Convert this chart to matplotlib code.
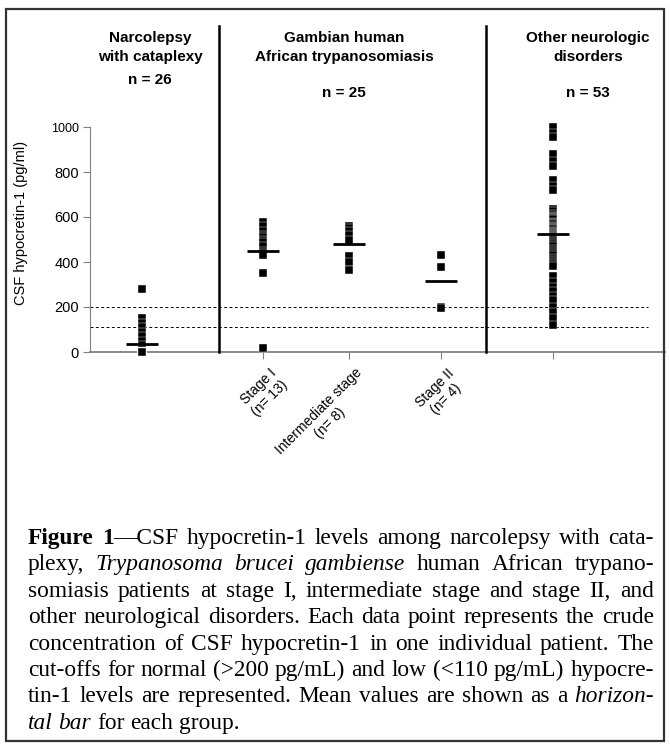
import numpy as np
import matplotlib.pyplot as plt
from matplotlib.patches import Rectangle

# Data (pg/ml)
narcolepsy = [280, 150, 130, 110, 90, 70, 50, 30, 20, 10, 10, 10,
              0, 0, 0, 0, 0, 0, 0, 0, 0, 0, 0, 0, 0, 0]
stage1 = [580, 560, 540, 520, 510, 500, 490, 470, 450, 440, 430, 352, 20]
intermediate = [560, 550, 540, 520, 500, 425, 400, 365]
stage2 = [430, 380, 200, 195]
other = [1000, 975, 955, 880, 850, 825, 765, 740, 720,
         634, 625, 615, 605, 600, 595, 590, 580, 575, 570, 560, 555, 550,
         545, 540, 535, 530, 525, 520, 515, 510, 500, 490, 480, 470, 460,
         450, 440, 430, 420, 410, 400, 390, 384,
         339, 310, 290, 270, 250, 230, 200, 180, 150, 121]
group_means = [37, 451, 478, 314, 524]
cutoffs = [200, 110]

cat_labels = ["", "Stage I\n(n= 13)", "Intermediate stage\n(n= 8)", "Stage II\n(n= 4)", ""]
yticks = [0, 200, 400, 600, 800, 1000]

headers = [("Narcolepsy", "with cataplexy", "n = 26"),
           ("Gambian human", "African trypanosomiasis", "n = 25"),
           ("Other neurologic", "disorders", "n = 53")]

caption = [
    [("Figure 1", "bold"), ("—CSF hypocretin-1 levels among narcolepsy with cata-", "normal")],
    [("plexy, ", "normal"), ("Trypanosoma brucei gambiense", "italic"), (" human African trypano-", "normal")],
    [("somiasis patients at stage I, intermediate stage and stage II, and", "normal")],
    [("other neurological disorders. Each data point represents the crude", "normal")],
    [("concentration of CSF hypocretin-1 in one individual patient. The", "normal")],
    [("cut-offs for normal (>200 pg/mL) and low (<110 pg/mL) hypocre-", "normal")],
    [("tin-1 levels are represented. Mean values are shown as a ", "normal"), ("horizon-", "italic")],
    [("tal bar", "italic"), (" for each group.", "normal")],
]

groups = [narcolepsy, stage1, intermediate, stage2, other]
positions = [0.59, 1.96, 2.93, 3.97, 5.23]

plt.rcParams['font.family'] = ['Liberation Sans', 'DejaVu Sans']

W, H = 670, 744
fig = plt.figure(figsize=(W / 100, H / 100), dpi=100)

# pixel -> figure fraction helpers
def fx(px):
    return px / W

def fy(py):
    return 1 - py / H

ax = fig.add_axes([fx(90), fy(352), (665 - 90) / W, (352 - 127) / H])
ax.set_xlim(0, 6.5)
ax.set_ylim(0, 1000)

gray = "#808080"
for s in ["top", "right"]:
    ax.spines[s].set_visible(False)
ax.spines["left"].set_color(gray)
ax.spines["bottom"].set_color(gray)
ax.spines["bottom"].set_linewidth(1.3)

# cut-off lines
ax.hlines(cutoffs, 0, 6.31, colors="black", linestyles=(0, (3, 2.5)), lw=0.7)

# group separators
for xs in [1.46, 4.48]:
    ax.plot([xs, xs], [0, 1450], color="black", lw=1.8, clip_on=False, zorder=3)

# data points
for x, vals in zip(positions, groups):
    ax.plot(np.full(len(vals), x), vals, ls="none", marker="s", ms=5.8,
            mfc="black", mec="white", mew=0.3, clip_on=False, zorder=4)

# mean bars
for x, m in zip(positions, group_means):
    ax.hlines(m, x - 0.18, x + 0.18, colors="black", lw=2, zorder=5)

ax.set_yticks(yticks)
ax.set_yticklabels([str(t) for t in yticks])
ax.tick_params(axis="y", colors=gray, labelcolor="black", labelsize=10.5, length=5, pad=3)
ax.get_yticklabels()[-1].set_fontsize(9)
ax.set_xticks(positions[1:])
ax.set_xticklabels([])
ax.tick_params(axis="x", colors=gray, length=5)

ax.set_ylabel("CSF hypocretin-1 (pg/ml)", fontsize=10.5)
ax.yaxis.set_label_coords(-0.108, 0.575)

for x, lab in zip(positions, cat_labels):
    if lab:
        ax.annotate(lab, xy=(x, 0), xytext=(4, -10), textcoords="offset points",
                    rotation=45, rotation_mode="anchor", ha="right", va="top",
                    multialignment="center", fontsize=10, annotation_clip=False)

# headers
head_x = [150, 344, 588]
head_y = [(38, 57, 80), (38, 57, 93), (38, 57, 93)]
for hx, hy, lines in zip(head_x, head_y, headers):
    for py, txt in zip(hy, lines):
        fig.text(fx(hx), fy(py), txt, ha="center", va="center",
                 fontsize=11, fontweight="bold")

# frame
fig.add_artist(Rectangle((fx(6), fy(741)), (664 - 6) / W, (741 - 9) / H,
                         transform=fig.transFigure, fill=False,
                         edgecolor="#333333", lw=1.6))

# caption, justified between two margins
renderer = fig.canvas.get_renderer()
left, right = 28, 654
line_h = 26.4
first_base = 544

def split_words(runs):
    words, cur = [], []
    for txt, st in runs:
        buf = ""
        for ch in txt:
            if ch == " ":
                if buf:
                    cur.append((buf, st))
                    buf = ""
                if cur:
                    words.append(cur)
                    cur = []
            else:
                buf += ch
        if buf:
            cur.append((buf, st))
    if cur:
        words.append(cur)
    return words

def make_words(words, size, base):
    placed, total = [], 0
    for w in words:
        parts, ww = [], 0
        for txt, st in w:
            t = fig.text(0, fy(base), txt, fontsize=size, va="baseline", ha="left",
                         family=["Liberation Serif", "DejaVu Serif"],
                         fontweight="bold" if st == "bold" else "normal",
                         fontstyle="italic" if st == "italic" else "normal")
            tw = t.get_window_extent(renderer).width
            parts.append((t, tw))
            ww += tw
        placed.append((parts, ww))
        total += ww
    return placed, total

# pick the largest size whose natural lines still fit
probe = 15.0
widest = 0
for runs in caption[:-1]:
    words = split_words(runs)
    placed, total = make_words(words, probe, 0)
    nat = total + (len(words) - 1) * 0.25 * probe * 100 / 72
    widest = max(widest, nat)
    for parts, _ in placed:
        for t, _ in parts:
            t.remove()
cap_size = probe * (right - left - 4) / widest

space_w = 0.25 * cap_size * 100 / 72
for i, runs in enumerate(caption):
    base = first_base + i * line_h
    words = split_words(runs)
    placed, total = make_words(words, cap_size, base)
    if i < len(caption) - 1 and len(words) > 1:
        gap = (right - left - total) / (len(words) - 1)
    else:
        gap = space_w
    xcur = left
    for parts, ww in placed:
        for t, tw in parts:
            t.set_x(fx(xcur))
            xcur += tw
        xcur += gap

fig.savefig("out.png", dpi=100)
